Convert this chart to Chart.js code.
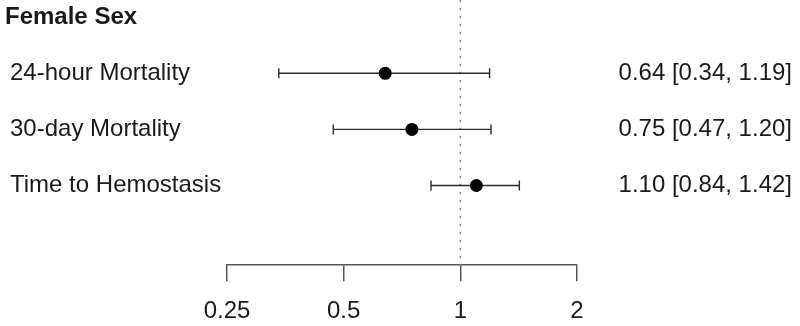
<!DOCTYPE html>
<html>
<head>
<meta charset="utf-8">
<script src="https://cdn.jsdelivr.net/npm/chart.js@4/dist/chart.umd.min.js"></script>
<style>
  html, body { margin: 0; padding: 0; background: #fff; }
  #wrap { width: 800px; height: 326px; position: relative; }
</style>
</head>
<body>
<div id="wrap"><canvas id="chart"></canvas></div>
<script>
// forest plot data
const groupTitle = 'Female Sex';
const outcomes = ['24-hour Mortality', '30-day Mortality', 'Time to Hemostasis'];
const estimates = [0.64, 0.75, 1.10];
const lower = [0.34, 0.47, 0.84];
const upper = [1.19, 1.20, 1.42];
const xTicks = [0.25, 0.5, 1, 2];

const fontFamily = '"Liberation Sans", Arial, Helvetica, sans-serif';
const textColor = '#1a1a1a';

// rows: 0 = group title, 1..n = outcomes
const points = estimates.map((v, i) => ({x: v, y: i + 1}));

const forestPlugin = {
    id: 'forest',
    beforeDatasetsDraw(chart) {
        const ctx = chart.ctx;
        const xs = chart.scales.x;
        const ys = chart.scales.y;
        const area = chart.chartArea;
        ctx.save();
        // reference line at 1
        const x1 = xs.getPixelForValue(1);
        ctx.strokeStyle = '#808080';
        ctx.lineWidth = 1.5;
        ctx.setLineDash([2, 6]);
        ctx.beginPath();
        ctx.moveTo(x1, 0);
        ctx.lineTo(x1, area.bottom);
        ctx.stroke();
        ctx.setLineDash([]);
        // confidence intervals
        ctx.strokeStyle = '#2a2a2a';
        ctx.lineWidth = 1.4;
        for (let i = 0; i < outcomes.length; i++) {
            const y = ys.getPixelForValue(i + 1);
            const a = xs.getPixelForValue(lower[i]);
            const b = xs.getPixelForValue(upper[i]);
            ctx.beginPath();
            ctx.moveTo(a, y); ctx.lineTo(b, y);
            ctx.moveTo(a, y - 5); ctx.lineTo(a, y + 5);
            ctx.moveTo(b, y - 5); ctx.lineTo(b, y + 5);
            ctx.stroke();
        }
        ctx.restore();
    },
    afterDraw(chart) {
        const ctx = chart.ctx;
        const ys = chart.scales.y;
        ctx.save();
        ctx.fillStyle = textColor;
        ctx.textBaseline = 'middle';
        ctx.font = 'bold 24px ' + fontFamily;
        ctx.textAlign = 'left';
        ctx.fillText(groupTitle, 5, ys.getPixelForValue(0));
        ctx.font = '24px ' + fontFamily;
        for (let i = 0; i < outcomes.length; i++) {
            const y = ys.getPixelForValue(i + 1);
            ctx.textAlign = 'left';
            ctx.fillText(outcomes[i], 10, y);
            ctx.textAlign = 'right';
            const s = estimates[i].toFixed(2) + ' [' + lower[i].toFixed(2) + ', ' + upper[i].toFixed(2) + ']';
            ctx.fillText(s, 792, y);
        }
        ctx.restore();
    }
};

new Chart(document.getElementById('chart'), {
    type: 'scatter',
    data: {
        datasets: [{
            data: points,
            pointRadius: 6.5,
            pointHoverRadius: 6.5,
            backgroundColor: '#000',
            borderColor: '#000',
            borderWidth: 0
        }]
    },
    options: {
        responsive: true,
        maintainAspectRatio: false,
        animation: false,
        events: [],
        layout: {
            padding: {left: 227, right: 223, top: -11, bottom: -16}
        },
        plugins: {
            legend: {display: false},
            tooltip: {enabled: false}
        },
        scales: {
            x: {
                type: 'logarithmic',
                min: 0.25,
                max: 2,
                afterBuildTicks: axis => {
                    axis.ticks = xTicks.map(v => ({value: v}));
                },
                border: {display: true, color: '#555', width: 1.5},
                grid: {
                    display: true,
                    drawOnChartArea: false,
                    drawTicks: true,
                    tickLength: 16,
                    color: '#555',
                    lineWidth: 1.5
                },
                ticks: {
                    color: textColor,
                    font: {family: fontFamily, size: 24},
                    padding: 16,
                    maxRotation: 0,
                    autoSkip: false,
                    callback: v => String(v)
                }
            },
            y: {
                display: false,
                reverse: true,
                min: -0.19,
                max: 4.42
            }
        }
    },
    plugins: [forestPlugin]
});
</script>
</body>
</html>
